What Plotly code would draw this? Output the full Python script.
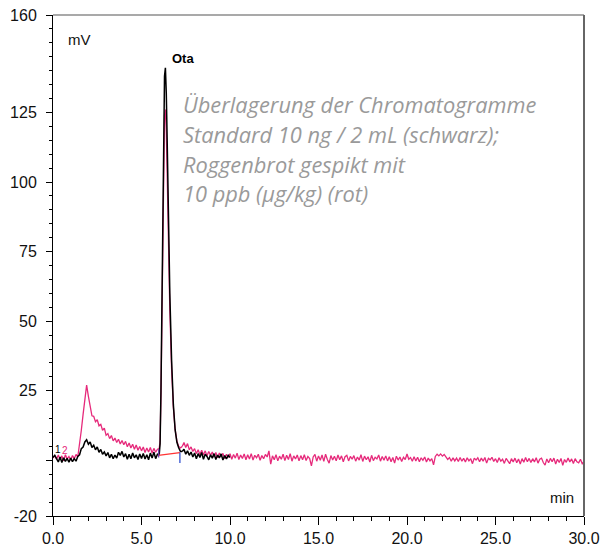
import plotly.graph_objects as go

# ---------------- data ----------------
early_start, early_step = 0.0, 0.1          # 0.0 .. 6.0 min
late_start, late_step = 7.3, 0.1            # 7.3 .. end

pink_early = [
    0.8, 1.8, 0.4, 1.9, 0.2, 1.6, -0.2, 2.0, 0.5, 1.4,
    0.1, 1.7, 0.6, 2.1, 1.2, 5.5, 10.8, 16.5, 21.5, 27.0,
    23.0, 19.5, 16.0, 15.8, 13.9, 14.6, 12.4, 12.9, 10.8, 11.6,
    9.0, 9.6, 7.8, 8.9, 7.0, 8.0, 6.4, 7.6, 5.9, 7.1,
    5.6, 6.8, 4.9, 6.2, 4.4, 5.8, 4.0, 5.5, 3.6, 5.0,
    3.4, 4.8, 2.8, 4.4, 3.0, 4.6, 2.6, 4.3, 2.9, 4.0,
    4.2,
]
black_early = [
    1.0, 1.8, 0.6, -0.6, 1.2, -0.8, 0.9, -0.4, 0.7, -0.7,
    0.8, -0.5, 0.6, -0.3, 1.4, 2.0, 4.2, 4.8, 6.6, 7.4,
    5.8, 6.6, 4.6, 5.4, 3.8, 4.8, 2.9, 3.9, 2.2, 3.0,
    1.6, 2.8, 0.9, 2.2, 0.6, 1.9, 0.8, 2.9, 1.8, 3.2,
    1.2, 2.4, 0.4, 2.2, 0.6, 2.6, 0.9, 2.0, 0.3, 2.3,
    0.7, 2.5, 0.5, 2.0, 0.2, 2.6, 0.8, 2.9, 0.6, 2.2,
    2.0,
]

peak_t = [6.0, 6.05, 6.1, 6.15, 6.2, 6.25, 6.3, 6.35, 6.4, 6.45,
          6.5, 6.55, 6.6, 6.7, 6.8, 6.9, 7.0, 7.1, 7.2, 7.3]
black_peak = [2.0, 6, 25, 60, 95, 122, 138, 141, 132, 115,
              96, 78, 60, 36, 20, 11, 6.5, 4.5, 3.2, 3.2]
pink_peak = [4.2, 7, 24, 55, 86, 110, 124, 126, 118, 103,
             86, 70, 54, 33, 19, 11, 7.0, 5.0, 4.5, 5.0]

pink_late = [
    5.0, 6.4, 4.6, 6.0, 3.8, 4.8, 3.2,
    4.2, 2.4, 3.8, 2.0, 3.6, 1.9, 3.4, 1.6, 3.2, 1.8,
    3.0, 1.2, 2.8, 0.9, 2.6, 1.4, 2.5, 0.6, 2.2, 1.0,
    2.4, 0.4, 2.1, 0.8, 2.6, 0.3, 1.9, 0.7, 2.3, 0.2,
    2.0, 0.5, 2.4, 0.1, 1.8, 0.9, 2.2, 0.0, 1.7, 0.6,
    2.1, 1.2, 3.4, -1.4, 1.6, 0.2, 2.0, -0.2, 1.5, 0.4,
    2.2, -0.1, 1.8, 0.3, 2.4, -0.3, 1.6, 0.5, 1.9, -0.2,
    1.7, 0.2, 2.0, -0.1, 1.4, 0.6, -2.0, 1.2, 2.1, -0.3,
    1.6, 0.0, 1.9, -0.4, 2.2, 0.3, -1.0, 1.7, 0.1, 1.5,
    -0.2, 1.9, 0.2, 1.6, -0.5, 1.3, 1.8, -0.2, 1.4, 0.4,
    1.7, -0.3, 1.2, 0.1, 2.0, -0.4, 1.5, 0.2, 1.3, -0.6,
    1.8, -0.1, 1.1, 0.5, 1.9, -0.3, 1.4, 0.0, 1.6, -0.2,
    1.3, -0.5, 1.0, -1.0, 1.5, 0.1, 1.2, -0.4, 1.1, 0.3,
    2.3, 0.4, 1.0, -0.3, 1.3, -0.2, 1.1, -0.5, 0.9, 0.0,
    1.2, -0.6, 0.8, -0.2, 0.6, -1.6, 1.4, 2.2, 1.6, 2.3,
    1.5, 2.1, 1.2, 0.3, 1.0, -0.3, 0.9, -0.2, 0.8, -0.4,
    1.0, -0.3, 0.7, -0.6, 0.9, -0.2, 0.6, -1.2, 0.8, 0.1,
    0.9, -0.5, 0.8, -0.3, 1.0, -1.0, 0.7, 0.2, 1.1, -0.4,
    0.6, -0.8, 0.9, -0.3, 0.4, -1.1, 0.7, -0.5, -1.2, 0.6,
    -0.6, 0.8, -0.9, 0.5, -1.3, 0.6, -0.7, 1.0, -0.5, 0.7,
    -0.8, 0.6, -0.6, 0.9, -1.0, 0.4, 0.8, -0.8, -1.7, 0.5,
    -0.9, 0.7, -0.5, 0.8, -1.3, 0.4, -0.8, 0.7, -1.8, 0.3,
    -0.7, 0.8, -0.6, 0.5, -1.1, 0.6, -0.5, -0.9, 0.4, -1.2,
    -0.4,
]
black_late = [
    3.2, 4.0, 2.2, 3.4, 1.8, 3.0, 1.2,
    2.6, 0.6, 2.4, 1.0, 2.8, 0.4, 2.2, 1.4, 0.2, 2.0,
    0.8, 2.4, 0.3, 1.9, 0.9, 2.3, 0.1, 1.7, 0.5, 1.8,
    1.0,
]

# integration baseline and peak markers
base_t = [5.95, 7.17]
base_v = [1.8, 2.8]
mark_end_t = [7.17, 7.17]
mark_end_v = [2.8, -1.0]
mark_start_t = [5.97, 5.97]
mark_start_v = [1.0, 4.0]

peak_name = "Ota"
peak_name_pos = (6.6, 144.5)
note_lines = [
    "Überlagerung der Chromatogramme",
    "Standard 10 ng / 2 mL (schwarz);",
    "Roggenbrot gespikt mit",
    "10 ppb (µg/kg) (rot)",
]

y_ticks = [-20, 0, 25, 50, 75, 100, 125, 160]
y_ticktext = ["-20", "", "25", "50", "75", "100", "125", "160"]
x_ticks = [0, 5, 10, 15, 20, 25, 30]
x_ticktext = ["0.0", "5.0", "10.0", "15.0", "20.0", "25.0", "30.0"]

PINK = "#e62a7b"
BLACK = "#000000"
FONT = "Arial, Liberation Sans, sans-serif"

fig = go.Figure()

def seg(fig, color, width, **kw):
    fig.add_trace(go.Scatter(mode="lines", line=dict(color=color, width=width),
                             hoverinfo="skip", showlegend=False, **kw))

# pink (sample) first, black (standard) on top
seg(fig, PINK, 1.3, y=pink_early, x0=early_start, dx=early_step)
seg(fig, PINK, 1.3, x=peak_t, y=pink_peak)
seg(fig, PINK, 1.3, y=pink_late, x0=late_start, dx=late_step)
seg(fig, BLACK, 1.5, y=black_early, x0=early_start, dx=early_step)
seg(fig, BLACK, 1.5, x=peak_t, y=black_peak)
seg(fig, BLACK, 1.5, y=black_late, x0=late_start, dx=late_step)
seg(fig, "#ff3333", 1.2, x=base_t, y=base_v)
seg(fig, "#2244cc", 1.2, x=mark_end_t, y=mark_end_v)
seg(fig, "#6a3fb0", 1.2, x=mark_start_t, y=mark_start_v)

L, R, T, B = 53, 27, 15, 32
PW, PH = 611 - L - R, 548 - T - B

annotations = [
    dict(x=peak_name_pos[0], y=peak_name_pos[1], text="<b>Ota</b>", showarrow=False,
         xanchor="left", yanchor="middle",
         font=dict(family=FONT, size=13, color="#000")),
    dict(xref="paper", yref="paper", x=(66 - L) / PW, y=1 - (40 - T) / PH, text="mV",
         showarrow=False, xanchor="left", yanchor="middle",
         font=dict(family=FONT, size=15, color="#111")),
    dict(xref="paper", yref="paper", x=(576 - L) / PW, y=1 - (497 - T) / PH, text="min",
         showarrow=False, xanchor="right", yanchor="middle",
         font=dict(family=FONT, size=15, color="#111")),
    dict(x=0.0, y=4.0, text="1", showarrow=False, xanchor="left", yanchor="middle",
         font=dict(family=FONT, size=10, color=BLACK)),
    dict(x=0.42, y=3.5, text="2", showarrow=False, xanchor="left", yanchor="middle",
         font=dict(family=FONT, size=10, color=PINK)),
]
for i, line in enumerate(note_lines):
    annotations.append(dict(
        xref="paper", yref="paper", x=(181 - L) / PW, y=1 - (105 + 29.5 * i - T) / PH,
        text=line, showarrow=False, xanchor="left", yanchor="middle",
        font=dict(family="Open Sans", size=21.8, color="#9a9a9a", style="italic")))

fig.update_layout(
    width=611, height=548,
    margin=dict(l=L, r=R, t=T, b=B, autoexpand=False),
    paper_bgcolor="white", plot_bgcolor="white",
    annotations=annotations,
    xaxis=dict(range=[0, 30], tickvals=x_ticks, ticktext=x_ticktext, automargin=False,
               ticks="outside", ticklen=8, tickwidth=1, tickcolor="#000",
               minor=dict(dtick=1, tick0=0, ticks="outside", ticklen=4, tickcolor="#000"),
               showgrid=False, zeroline=False, showline=True, linecolor="#000",
               linewidth=1, mirror=False, ticklabelstandoff=0,
               tickfont=dict(family=FONT, size=16, color="#111")),
    yaxis=dict(range=[-20, 160], tickvals=y_ticks, ticktext=y_ticktext, automargin=False,
               ticks="outside", ticklen=6, tickwidth=1, tickcolor="#000",
               minor=dict(dtick=5, tick0=0, ticks="outside", ticklen=3, tickcolor="#000"),
               showgrid=False, zeroline=False, showline=True, linecolor="#000",
               linewidth=1, mirror=False, ticklabelstandoff=6,
               tickfont=dict(family=FONT, size=16, color="#111")),
    shapes=[
        dict(type="line", xref="paper", yref="paper", x0=0, x1=1, y0=1, y1=1,
             line=dict(color="#555", width=1.2)),
        dict(type="line", xref="paper", yref="paper", x0=1, x1=1, y0=0, y1=1,
             line=dict(color="#666", width=2)),
    ],
)

fig.write_html("out.html",
               config={"displayModeBar": False},
               post_script="document.body.style.margin='0';document.body.style.overflow='hidden';")
